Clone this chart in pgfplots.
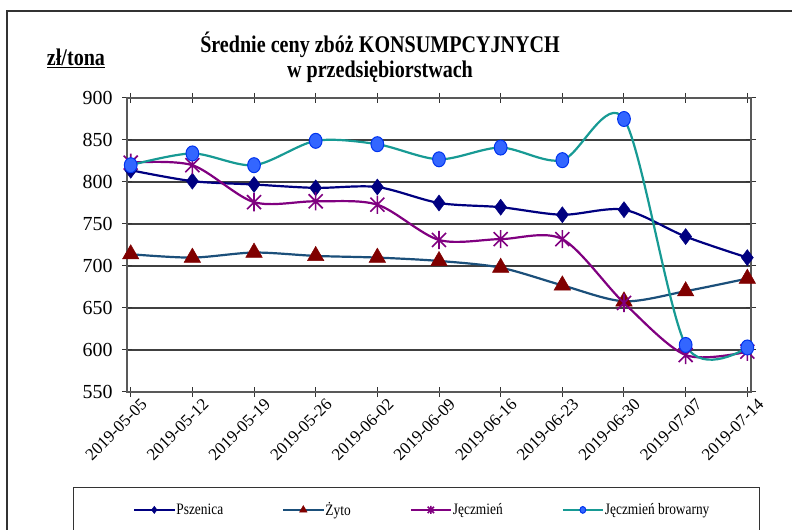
\documentclass[border=0pt]{standalone}
\usepackage{fontspec}
\setmainfont{Liberation Serif}
\newfontfamily\narrowserif[FakeStretch=0.84]{Liberation Serif}
\usepackage{pgfplots}
\pgfplotsset{compat=1.18}

\definecolor{psz}{HTML}{000080}
\definecolor{zytoline}{HTML}{1B4F7A}
\definecolor{zytomark}{HTML}{800000}
\definecolor{jecz}{HTML}{800080}
\definecolor{browline}{HTML}{179A94}
\definecolor{browfill}{HTML}{3366FF}
\definecolor{browdraw}{HTML}{0033EE}
\definecolor{gridc}{HTML}{404040}

\pgfdeclareplotmark{xstar}{%
  \pgfpathmoveto{\pgfqpoint{-\pgfplotmarksize}{-\pgfplotmarksize}}%
  \pgfpathlineto{\pgfqpoint{\pgfplotmarksize}{\pgfplotmarksize}}%
  \pgfpathmoveto{\pgfqpoint{-\pgfplotmarksize}{\pgfplotmarksize}}%
  \pgfpathlineto{\pgfqpoint{\pgfplotmarksize}{-\pgfplotmarksize}}%
  \pgfpathmoveto{\pgfqpoint{0pt}{-1.3\pgfplotmarksize}}%
  \pgfpathlineto{\pgfqpoint{0pt}{1.3\pgfplotmarksize}}%
  \pgfusepathqstroke}

\pgfplotstableread{
x psz zyto jecz brow
0 814 714 823 820
1 801 710 820 834
2 797 716 776 820
3 793 712 777 849
4 794 710 773 845
5 775 706 731 827
6 770 698 732 841
7 761 677 732 826
8 767 658 656 875
9 735 670 594 606
10 710 685 598 603
}\prices

\begin{document}
\begin{tikzpicture}[x=1bp,y=1bp]
\path[use as bounding box] (0,0) rectangle (792,530);
\draw[line width=1.2bp, black!80] (7,-5) -- (7,519) -- (800,519);
\node[anchor=base, font=\narrowserif\bfseries\fontsize{24}{24}\selectfont] at (380,477) {Średnie ceny zbóż KONSUMPCYJNYCH};
\node[anchor=base, font=\narrowserif\bfseries\fontsize{24}{24}\selectfont] at (380,452) {w przedsiębiorstwach};
\node[anchor=base, font=\narrowserif\bfseries\fontsize{24}{24}\selectfont] at (76,464) {\underline{zł/tona}};
\draw[line width=1bp, black!80] (73,-10) -- (73,42) -- (759,42) -- (759,-10);
\begin{axis}[
  at={(127bp,138bp)}, anchor=south west, scale only axis,
  width=624bp, height=294bp,
  xmin=-0.06, xmax=10.06, ymin=550, ymax=900,
  ytick={550,600,...,900},
  xtick={0,...,10},
  xticklabels={2019-05-05,2019-05-12,2019-05-19,2019-05-26,2019-06-02,2019-06-09,2019-06-16,2019-06-23,2019-06-30,2019-07-07,2019-07-14},
  ymajorgrids, grid style={gridc, line width=1.2bp},
  axis line style={black!65, line width=1.2bp},
  tick style={black!80, line width=1bp},
  tick align=center, major tick length=10bp,
  /pgf/number format/assume math mode=true,
  yticklabel style={font=\rmfamily\fontsize{20}{20}\selectfont, xshift=-6bp},
  xticklabel style={font=\rmfamily\fontsize{17}{17}\selectfont, rotate=45, anchor=east, xshift=7bp, yshift=-13bp, inner sep=1bp},
  legend columns=4,
  legend style={at={(axis description cs:0.0096,-0.401)}, anchor=west, draw=none, fill=none,
     font=\narrowserif\fontsize{16}{16}\selectfont, inner sep=0pt,
     /tikz/every even column/.append style={column sep=58bp}, nodes={inner sep=1bp}},
  legend image code/.code={\draw[mark repeat=2,mark phase=2,#1,every mark/.append style={scale=0.45}] plot coordinates {(0bp,0bp)(20bp,0bp)(40bp,0bp)};},
]
\addplot[psz, line width=2.2bp, smooth, mark=diamond*, mark size=8bp, mark options={fill=psz, draw=psz, line width=0.5bp}] table[x=x,y=psz] {\prices};
\addlegendentry{Pszenica}
\addplot[zytoline, line width=2.2bp, smooth, mark=triangle*, mark size=9.5bp, mark options={fill=zytomark, draw=zytomark, line width=0.5bp}] table[x=x,y=zyto] {\prices};
\addlegendentry{Żyto}
\addplot[jecz, line width=2.2bp, smooth, mark=xstar, mark size=7bp, mark options={draw=jecz, line width=1.6bp}] table[x=x,y=jecz] {\prices};
\addlegendentry{Jęczmień}
\addplot[browline, line width=2.2bp, smooth, mark=*, mark size=7.5bp, mark options={fill=browfill, draw=browdraw, line width=1bp, xscale=0.85}] table[x=x,y=brow] {\prices};
\addlegendentry{Jęczmień browarny}
\end{axis}
\end{tikzpicture}
\end{document}
